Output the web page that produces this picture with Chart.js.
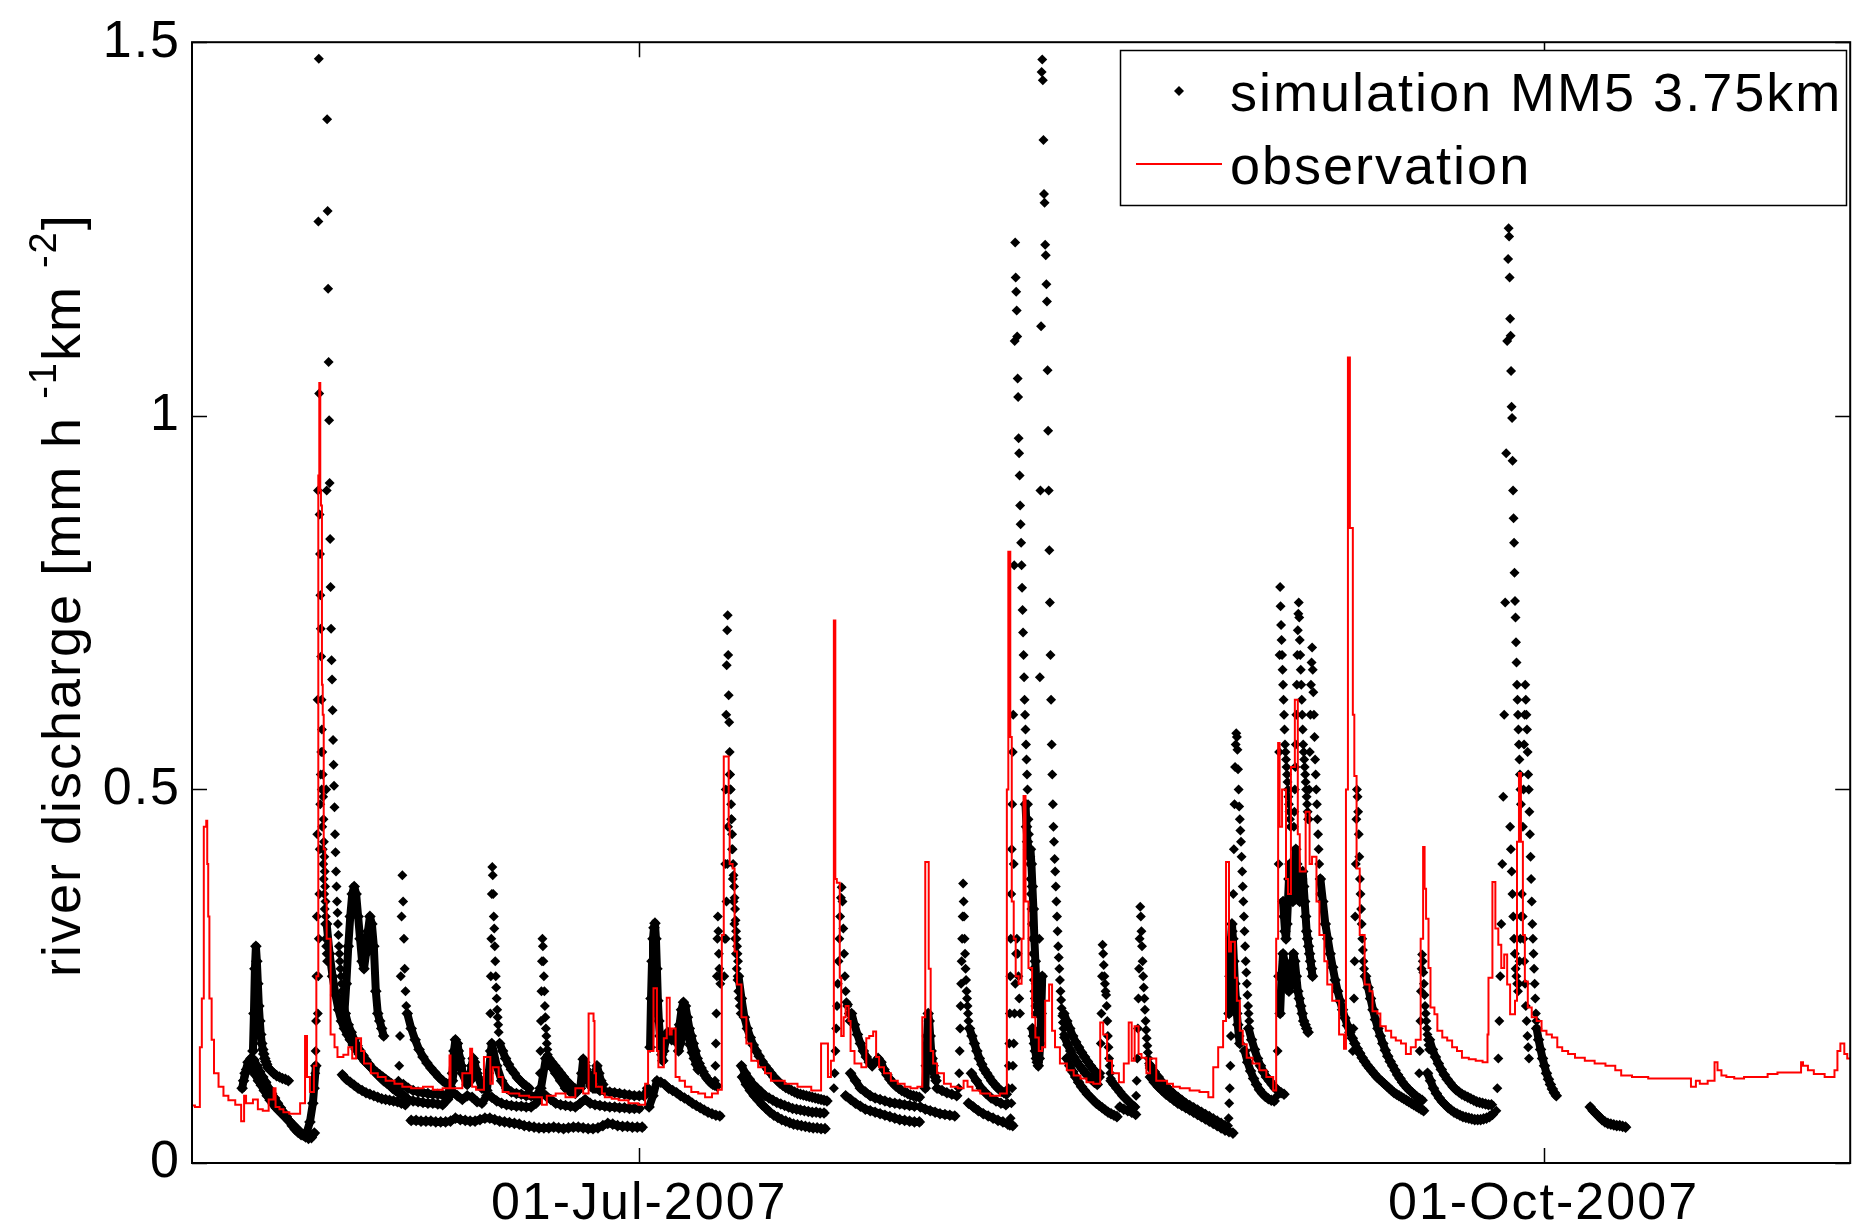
<!DOCTYPE html>
<html>
<head>
<meta charset="utf-8">
<script src="https://cdn.jsdelivr.net/npm/chart.js@4.4.1/dist/chart.umd.min.js"></script>
<style>
html, body { margin: 0; padding: 0; background: #fff; }
</style>
</head>
<body>
<canvas id="graph1" width="1856" height="1231"></canvas>
<script>
// x = day of year 2007 (1 = 01-Jan), y = river discharge [mm h-1 km-2]
var xTickDays = [182, 274];
var xTickLabels = ['01-Jul-2007', '01-Oct-2007'];
var yTicks = [0, 0.5, 1, 1.5];
var yTickLabels = ['0', '0.5', '1', '1.5'];

// observation (red line)
var obsDay = [136.5,136.8,137.3,137.5,137.7,137.95,138.05,138.15,138.27,138.5,138.74,139.2,139.7,140.2,140.9,141.5,141.8,142.0,142.7,143.2,143.7,144.3,144.8,145.0,145.4,145.8,146.4,147.5,148.0,148.2,148.5,148.9,149.15,149.35,149.45,149.55,149.62,149.72,149.8,149.9,150.05,150.2,150.6,151.0,151.3,151.9,152.4,152.8,153.2,153.7,154.0,154.7,155.4,156.2,157.1,157.9,158.8,160.0,161.0,162.0,162.7,162.8,162.95,164.0,164.8,165.0,165.4,166.2,166.85,167.1,167.7,168.1,168.7,169.8,170.8,172.1,172.6,172.7,173.5,174.5,175.5,176.3,176.85,177.35,177.45,177.6,178.2,178.5,179.2,179.9,180.9,181.9,182.6,182.9,183.45,183.8,183.95,184.5,184.8,185.1,185.3,185.7,186.1,186.65,187.3,188.0,188.7,189.4,190.0,190.4,190.6,190.8,191.1,191.2,191.5,191.7,191.95,192.4,192.9,193.4,194.1,194.8,195.4,196.8,198.1,199.5,200.5,201.2,201.5,201.8,201.95,202.1,202.4,202.55,202.8,203.0,203.3,203.5,203.9,204.6,205.1,205.4,205.8,206.1,206.4,206.9,207.6,208.3,209.0,209.6,210.3,210.8,211.1,211.35,211.45,211.65,211.9,212.3,213.0,213.7,214.4,215.0,215.4,215.9,216.7,217.7,218.7,219.4,219.55,219.75,219.9,220.1,220.3,220.6,220.9,221.1,221.3,221.6,221.97,222.3,222.65,222.99,223.3,223.7,224.0,224.3,224.8,225.5,226.2,226.9,227.5,228.2,228.9,229.2,229.6,230.1,230.8,231.3,231.8,232.1,232.4,232.8,233.1,233.6,233.97,234.6,234.98,235.7,236.3,237.0,238.0,239.0,239.9,240.4,240.9,241.4,241.7,242.0,242.2,242.6,242.8,243.1,243.4,243.8,244.4,245.1,245.8,246.5,246.8,247.0,247.15,247.4,247.8,248.0,248.3,248.7,249.0,249.2,249.5,249.8,250.2,250.45,250.9,251.2,251.7,252.0,252.5,253.2,253.7,253.9,254.1,254.3,254.6,254.75,254.98,255.3,255.8,256.3,256.6,257.1,257.4,257.95,258.5,258.97,259.5,260.0,260.5,261.0,261.5,261.75,261.9,262.05,262.3,262.5,262.9,263.2,263.7,264.2,264.7,265.2,265.7,266.4,267.1,267.8,268.3,268.4,268.8,269.1,269.4,269.7,270.0,270.3,270.6,271.1,271.3,271.5,271.7,271.9,272.1,272.4,272.8,273.3,273.8,274.3,274.85,275.4,275.9,276.5,277.2,278.2,279.2,280.3,281.3,281.9,283.0,284.65,286.0,287.7,289.0,289.5,289.9,290.7,291.4,291.7,292.1,292.6,293.4,294.4,295.5,296.8,297.8,299.2,300.2,300.4,300.9,301.5,302.6,303.6,303.9,304.2,304.6,304.9,305.3];
var obsQ = [0.055,0.077,0.075,0.155,0.22,0.45,0.458,0.4,0.33,0.22,0.165,0.12,0.102,0.09,0.084,0.078,0.056,0.09,0.08,0.085,0.072,0.07,0.085,0.1,0.075,0.072,0.068,0.066,0.08,0.17,0.115,0.095,0.13,0.25,0.92,1.044,0.9,0.88,0.64,0.6,0.42,0.35,0.3,0.172,0.155,0.142,0.145,0.155,0.14,0.167,0.15,0.133,0.12,0.115,0.11,0.106,0.102,0.1,0.102,0.098,0.1,0.144,0.1,0.1,0.12,0.153,0.102,0.098,0.142,0.106,0.128,0.115,0.095,0.093,0.09,0.088,0.078,0.09,0.09,0.093,0.088,0.1,0.093,0.2,0.19,0.12,0.102,0.093,0.088,0.086,0.084,0.08,0.078,0.106,0.15,0.234,0.15,0.128,0.167,0.221,0.172,0.18,0.115,0.11,0.102,0.095,0.093,0.088,0.093,0.098,0.305,0.544,0.544,0.45,0.4,0.394,0.283,0.239,0.195,0.16,0.137,0.128,0.12,0.11,0.106,0.102,0.097,0.16,0.115,0.137,0.726,0.38,0.375,0.248,0.17,0.195,0.21,0.19,0.15,0.133,0.128,0.167,0.17,0.176,0.142,0.128,0.12,0.11,0.106,0.102,0.1,0.102,0.195,0.403,0.403,0.26,0.15,0.133,0.12,0.106,0.102,0.1,0.11,0.102,0.097,0.093,0.09,0.093,0.5,0.818,0.57,0.35,0.3,0.25,0.24,0.3,0.491,0.35,0.261,0.195,0.168,0.15,0.155,0.217,0.239,0.177,0.155,0.133,0.124,0.117,0.113,0.108,0.106,0.188,0.172,0.137,0.12,0.108,0.133,0.188,0.137,0.183,0.146,0.141,0.12,0.14,0.11,0.11,0.106,0.102,0.1,0.097,0.095,0.088,0.128,0.155,0.19,0.403,0.283,0.296,0.248,0.217,0.177,0.159,0.141,0.133,0.124,0.115,0.097,0.3,0.562,0.45,0.5,0.38,0.36,0.53,0.62,0.44,0.39,0.39,0.47,0.4,0.41,0.35,0.305,0.27,0.239,0.217,0.172,0.153,0.5,1.078,0.85,0.6,0.518,0.394,0.305,0.239,0.23,0.203,0.2,0.183,0.177,0.168,0.164,0.16,0.146,0.155,0.165,0.3,0.423,0.367,0.327,0.261,0.208,0.199,0.177,0.168,0.164,0.155,0.15,0.141,0.139,0.137,0.135,0.172,0.248,0.376,0.314,0.292,0.261,0.279,0.239,0.199,0.217,0.43,0.522,0.43,0.305,0.243,0.208,0.195,0.19,0.177,0.172,0.168,0.155,0.15,0.146,0.141,0.137,0.133,0.13,0.124,0.117,0.115,0.113,0.113,0.113,0.102,0.11,0.106,0.11,0.135,0.124,0.117,0.115,0.113,0.115,0.115,0.119,0.121,0.121,0.135,0.13,0.124,0.119,0.115,0.124,0.15,0.16,0.146,0.14];

// simulation MM5 3.75km (black dots), runs of [start day, step in days, values]
var simMay = [
  [141.6, 0.3, [0.10,0.12,0.135,0.14,0.138,0.13,0.122,0.115,0.108,0.1,0.093,0.087,0.08,0.074,0.068,0.062,0.056,0.05,0.045,0.041,0.038,0.037,0.042,0.055,0.08,0.13]],
  [141.75, 0.3, [0.11,0.125,0.13,0.125,0.118,0.11,0.104,0.097,0.09,0.084,0.079,0.074,0.07,0.066,0.062,0.058,0.054,0.05,0.046,0.042,0.038,0.035,0.033,0.034,0.04]],
  [142.7, 0.1, [0.15,0.2,0.26,0.29,0.27,0.24,0.21,0.19,0.172,0.16,0.152,0.146,0.14,0.136,0.132]],
  [144.2, 0.3, [0.128,0.124,0.12,0.117,0.115,0.113,0.112,0.11]],
  [149.0, 0.04, [0.1,0.12,0.15,0.19,0.25,0.33,0.44,0.62,0.9,1.26,1.478,1.03,0.868,0.815,0.76,0.715,0.678,0.62,0.58,0.55,0.52,0.49,0.46,0.43,0.41,0.39,0.37,0.35,0.33]],
  [149.3, 0.05, [0.2,0.25,0.3,0.36,0.42,0.48,0.52,0.55,0.5,0.45,0.42,0.4,0.38,0.36,0.34,0.32,0.3,0.29,0.28,0.27]],
  [150.15, 0.05, [0.5,0.9,1.397,1.274,1.17,1.072,0.994,0.91,0.835,0.771,0.715,0.673,0.647,0.606,0.566,0.533,0.505,0.476,0.44,0.416,0.39,0.37,0.35,0.335,0.32,0.305,0.29,0.28,0.27,0.26,0.25,0.24,0.23]],
  [150.2, 0.3, [0.32,0.28,0.25,0.225,0.205,0.19,0.18,0.172,0.165,0.158,0.152,0.146,0.141,0.136,0.132,0.128,0.124,0.121,0.118,0.115,0.112,0.109,0.106,0.104,0.102,0.1]],
  [151.8, 0.3, [0.22,0.2,0.185,0.175,0.165,0.157,0.15,0.144,0.138,0.132,0.127,0.122,0.118,0.114,0.11,0.107,0.104,0.1,0.097,0.094,0.092,0.09]],
  [152.0, 0.2, [0.2,0.24,0.29,0.33,0.36,0.37,0.36,0.33,0.3,0.27,0.26,0.28,0.31,0.33,0.32,0.29,0.23,0.2,0.19,0.18,0.17]],
  [151.8, 0.4, [0.118,0.112,0.108,0.104,0.1,0.097,0.094,0.092,0.09,0.088,0.086,0.085,0.084,0.083,0.082,0.08,0.078]]
];
var simJun = [
  [157.5, 0.08, [0.11,0.13,0.17,0.25,0.33,0.385,0.35,0.3,0.26,0.23,0.21]],
  [158.4, 0.4, [0.2,0.18,0.165,0.152,0.142,0.134,0.127,0.121,0.115,0.11,0.106,0.102]],
  [158.0, 0.5, [0.105,0.1,0.097,0.095,0.094,0.093,0.092,0.092,0.091,0.092,0.11,0.16,0.12,0.105,0.13,0.12,0.1,0.097,0.16,0.13,0.11,0.1,0.095,0.093,0.092,0.09,0.09,0.089,0.1,0.14,0.13,0.12,0.11,0.1,0.095,0.093,0.1,0.13,0.11,0.1,0.097,0.096,0.095,0.094,0.093,0.092,0.091,0.09,0.09,0.09]],
  [158.5, 0.5, [0.085,0.083,0.082,0.081,0.08,0.08,0.079,0.078,0.085,0.095,0.09,0.085,0.09,0.088,0.082,0.08,0.09,0.088,0.083,0.08,0.078,0.077,0.076,0.076,0.075,0.075,0.08,0.095,0.09,0.085,0.08,0.078,0.077,0.076,0.075,0.08,0.085,0.08,0.078,0.077,0.076,0.075,0.075,0.074,0.074,0.073,0.073,0.073]],
  [158.8, 0.5, [0.057,0.057,0.056,0.056,0.056,0.055,0.055,0.055,0.056,0.06,0.058,0.057,0.056,0.056,0.058,0.06,0.06,0.058,0.056,0.055,0.054,0.053,0.052,0.05,0.049,0.048,0.047,0.047,0.047,0.048,0.047,0.046,0.047,0.048,0.048,0.047,0.046,0.046,0.047,0.05,0.053,0.052,0.05,0.049,0.049,0.048,0.048,0.048]],
  [163.0, 0.15, [0.12,0.15,0.165,0.16,0.15,0.14,0.13,0.12]],
  [164.8, 0.15, [0.11,0.13,0.14,0.135,0.125,0.115]],
  [166.75, 0.05, [0.12,0.15,0.2,0.25,0.3,0.36,0.396,0.385,0.36,0.33,0.314,0.29,0.27,0.25,0.235,0.22,0.205,0.195,0.185,0.175]],
  [167.8, 0.3, [0.16,0.15,0.14,0.132,0.125,0.12,0.114,0.11,0.106,0.103,0.1]],
  [171.85, 0.05, [0.1,0.12,0.15,0.19,0.23,0.27,0.3,0.29,0.27,0.25,0.23,0.21,0.195,0.18,0.17,0.16,0.152,0.145]],
  [172.8, 0.3, [0.14,0.135,0.13,0.125,0.12,0.115,0.11,0.106,0.102,0.099]],
  [176.0, 0.15, [0.1,0.12,0.139,0.135,0.125,0.115,0.108,0.103]],
  [177.3, 0.2, [0.1,0.12,0.13,0.12,0.11,0.105]]
];
var simJul = [
  [182.6, 0.25, [0.092,0.1]],
  [183.1, 0.1, [0.155,0.22,0.27,0.3,0.315,0.321,0.3,0.26,0.217,0.19,0.17,0.155,0.145,0.137]],
  [184.5, 0.2, [0.15,0.165,0.175,0.17,0.165,0.17,0.175,0.165]],
  [185.9, 0.2, [0.16,0.185,0.205,0.215,0.21,0.195,0.18,0.17,0.16,0.15,0.14,0.133,0.127,0.122,0.117,0.113,0.11,0.107,0.105,0.104,0.103]],
  [186.0, 0.2, [0.15,0.16,0.175,0.185,0.18,0.17,0.158,0.148,0.14,0.132,0.125]],
  [183.0, 0.4, [0.075,0.09,0.11,0.108,0.105,0.1,0.097,0.094,0.09,0.087,0.084,0.08,0.077,0.074,0.071,0.068,0.066,0.064,0.063]],
  [189.7, 0.05, [0.11,0.13,0.16,0.2,0.25,0.3,0.33,0.31,0.28,0.26,0.25,0.24]],
  [190.65, 0.05, [0.25,0.3,0.4,0.5,0.6,0.666,0.713,0.733,0.68,0.626,0.59,0.55,0.52,0.5,0.48,0.46,0.44,0.42,0.4,0.385,0.37,0.355,0.34,0.325,0.31,0.3,0.29,0.28,0.27]],
  [190.8, 0.08, [0.3,0.35,0.4,0.45,0.5,0.52,0.5,0.46,0.42,0.38,0.35,0.32,0.3,0.28,0.26,0.245,0.23,0.22,0.21,0.2]],
  [192.1, 0.3, [0.25,0.22,0.195,0.18,0.168,0.158,0.15,0.143,0.136,0.13,0.125,0.12,0.115,0.111,0.107,0.104,0.101,0.099,0.097,0.095,0.093,0.092,0.091,0.09,0.089,0.088,0.087,0.086,0.085,0.084,0.083]],
  [192.4, 0.4, [0.13,0.12,0.112,0.105,0.1,0.095,0.09,0.087,0.084,0.081,0.079,0.077,0.075,0.073,0.072,0.071,0.07,0.069,0.068,0.068,0.067,0.067]],
  [192.5, 0.4, [0.115,0.105,0.097,0.09,0.084,0.078,0.073,0.068,0.064,0.061,0.058,0.056,0.054,0.052,0.051,0.05,0.049,0.048,0.047,0.047,0.046,0.046]],
  [201.8, 0.08, [0.1,0.12,0.15,0.18,0.21,0.24,0.27,0.3,0.33,0.355,0.369,0.35,0.314,0.28,0.25,0.23,0.215,0.21,0.212,0.2,0.19]],
  [203.6, 0.3, [0.2,0.185,0.172,0.16,0.15,0.142,0.135,0.13,0.135,0.14,0.135,0.125,0.118,0.112,0.107,0.103,0.1,0.097,0.095,0.093,0.091,0.09,0.089,0.088]],
  [203.5, 0.5, [0.12,0.11,0.1,0.095,0.09,0.087,0.085,0.083,0.081,0.08,0.079,0.078,0.077,0.076]],
  [203.0, 0.5, [0.09,0.085,0.08,0.076,0.072,0.07,0.068,0.066,0.064,0.062,0.06,0.058,0.057,0.056,0.055,0.055]],
  [211.1, 0.1, [0.1,0.13,0.17,0.2,0.19,0.17,0.15,0.14,0.13,0.12,0.115,0.11]],
  [212.3, 0.5, [0.1,0.097,0.094,0.092,0.09]],
  [210.6, 0.5, [0.075,0.072,0.07,0.068,0.066,0.065,0.064,0.063]]
];
var simAug = [
  [214.5, 0.05, [0.1,0.12,0.15,0.18,0.21,0.24,0.27,0.3,0.33,0.374,0.35,0.33,0.3,0.28,0.26,0.245,0.23,0.22,0.21,0.2,0.19]],
  [215.6, 0.25, [0.18,0.17,0.16,0.15,0.14,0.132,0.125,0.12,0.115,0.11,0.106,0.102,0.099,0.096,0.094,0.092]],
  [215.5, 0.5, [0.08,0.075,0.07,0.066,0.063,0.06,0.057,0.055,0.052,0.05]],
  [215.8, 0.5, [0.12,0.11,0.1,0.093,0.087,0.083,0.08,0.078]],
  [219.5, 0.05, [0.08,0.1,0.13,0.16,0.2,0.25,0.3,0.36,0.42,0.48,0.55,0.6]],
  [219.7, 0.08, [0.05,0.06,0.08,0.1,0.13,0.16,0.2,0.24,0.28,0.3,0.28,0.25,0.22,0.2]],
  [220.1, 0.05, [0.4,0.8,1.1,1.232,1.185,1.166,1.141,1.106,1.05,1.025,0.97,0.95,0.92,0.88,0.855,0.83,0.8,0.77,0.74,0.71,0.68,0.65,0.62,0.6,0.58,0.56,0.54,0.52,0.5,0.48,0.46,0.44,0.42,0.4,0.38,0.36,0.34,0.32,0.3,0.28,0.26,0.245,0.23,0.22,0.21,0.2]],
  [221.3, 0.1, [0.48,0.45,0.43,0.42,0.41,0.42,0.4,0.37,0.34,0.3,0.27,0.24,0.22,0.2]],
  [222.0, 0.1, [0.18,0.17,0.16,0.15,0.14,0.135,0.13,0.14,0.16,0.2,0.25]],
  [222.7, 0.06, [0.3,0.65,0.9,1.12,1.46,1.477,1.449,1.369,1.297,1.285,1.229,1.215,1.176,1.153,1.061,0.98,0.9,0.82,0.75,0.68,0.62,0.56,0.52,0.48,0.45,0.43,0.407,0.39,0.37,0.35,0.33,0.31,0.29,0.275,0.26,0.245,0.23,0.218,0.207,0.197,0.188,0.18,0.172]],
  [225.2, 0.3, [0.2,0.19,0.18,0.17,0.162,0.155,0.148,0.142,0.136,0.13,0.125,0.12,0.115]],
  [225.3, 0.3, [0.168,0.158,0.15,0.142,0.136,0.13,0.125,0.12,0.116,0.112,0.108,0.105]],
  [225.5, 0.3, [0.14,0.13,0.122,0.115,0.108,0.102,0.097,0.092,0.088,0.084,0.08,0.077,0.074,0.071,0.068,0.066,0.064,0.062]],
  [228.9, 0.06, [0.12,0.16,0.2,0.25,0.292,0.28,0.265,0.25,0.24,0.23,0.225,0.21,0.19,0.17,0.155,0.14,0.13,0.12,0.113]],
  [230.0, 0.3, [0.11,0.105,0.1,0.095,0.09,0.086,0.082,0.078,0.075]],
  [230.9, 0.4, [0.075,0.072,0.07,0.068,0.065]],
  [232.55, 0.06, [0.09,0.11,0.14,0.18,0.22,0.26,0.3,0.343,0.33,0.31,0.29,0.27,0.25,0.235,0.22,0.205,0.19,0.178,0.167,0.157,0.148,0.14,0.133,0.127]],
  [234.0, 0.4, [0.115,0.108,0.102,0.097,0.092,0.088,0.084,0.08,0.077,0.074,0.071,0.068,0.065,0.062,0.059,0.056,0.053,0.05,0.047,0.044,0.042,0.04]],
  [234.0, 0.4, [0.13,0.122,0.115,0.108,0.102,0.097,0.092,0.088,0.084,0.08,0.077,0.074,0.071,0.068,0.065,0.062,0.059,0.056,0.053,0.05]]
];
var simSep = [
  [241.9, 0.06, [0.05,0.06,0.08,0.1,0.13,0.17,0.21,0.26,0.31,0.36,0.42,0.48,0.53,0.56,0.575,0.57,0.553,0.527,0.5,0.477,0.46,0.445,0.43,0.41,0.39,0.37,0.35,0.33,0.31,0.29,0.27,0.255,0.24,0.225,0.21,0.2,0.19]],
  [242.0, 0.1, [0.2,0.25,0.3,0.32,0.3,0.27,0.24,0.22,0.2,0.185,0.17,0.16]],
  [244.0, 0.3, [0.18,0.165,0.152,0.14,0.13,0.122,0.115,0.11,0.105,0.1,0.097,0.094,0.092]],
  [243.6, 0.3, [0.15,0.135,0.123,0.113,0.105,0.098,0.093,0.089,0.086,0.084,0.083]],
  [246.9, 0.05, [0.09,0.15,0.25,0.4,0.55,0.68,0.771,0.745,0.72,0.7,0.68,0.66,0.64,0.62,0.6,0.58,0.56,0.55,0.54,0.53,0.52,0.51,0.5,0.49,0.48,0.47,0.46,0.45]],
  [248.6, 0.05, [0.45,0.47,0.5,0.53,0.56,0.6,0.64,0.68,0.713,0.735,0.75,0.73,0.7,0.68,0.66,0.64,0.62,0.6,0.58,0.56,0.55,0.54,0.53,0.52,0.51,0.5,0.49,0.48,0.47,0.46]],
  [250.1, 0.06, [0.46,0.5,0.55,0.6,0.64,0.67,0.69,0.66,0.63,0.6,0.57,0.54,0.52,0.5,0.48,0.46,0.44,0.42,0.4,0.38,0.36]],
  [247.5, 0.1, [0.35,0.33,0.31,0.3,0.32,0.35,0.38,0.4,0.38,0.36,0.35,0.37,0.4,0.42,0.4,0.38,0.36,0.35,0.36,0.38,0.39,0.37,0.35,0.33,0.31,0.3,0.29,0.28,0.27,0.26,0.25]],
  [247.2, 0.15, [0.2,0.25,0.28,0.27,0.25,0.24,0.23,0.24,0.26,0.28,0.27,0.25,0.23,0.22,0.21,0.2,0.19,0.185,0.18,0.175]],
  [251.3, 0.25, [0.38,0.35,0.32,0.3,0.28,0.262,0.245,0.23,0.217,0.205,0.194,0.184,0.175,0.167,0.16,0.153,0.147,0.141,0.136,0.131,0.127,0.123,0.119,0.115,0.112,0.109,0.106,0.103,0.1,0.097,0.094,0.092,0.09,0.088,0.086,0.084,0.082,0.08,0.078,0.076,0.074,0.072,0.07]],
  [254.6, 0.06, [0.15,0.18,0.22,0.27,0.33,0.4,0.46,0.5,0.49,0.47,0.44,0.41,0.38,0.36,0.34,0.32,0.3,0.285,0.27,0.26,0.25]],
  [255.9, 0.25, [0.25,0.235,0.22,0.205,0.192,0.18,0.17,0.16,0.151,0.143,0.136,0.13,0.124,0.118,0.113,0.108,0.104,0.1,0.097,0.094,0.091,0.088,0.086,0.084]],
  [261.35, 0.06, [0.12,0.15,0.19,0.23,0.26,0.279,0.27,0.255,0.24,0.225,0.21,0.2,0.19,0.18,0.172,0.165,0.158,0.152]],
  [262.4, 0.3, [0.165,0.152,0.142,0.133,0.125,0.118,0.112,0.107,0.102,0.098,0.095,0.092,0.09,0.088,0.086,0.084,0.082,0.081,0.08,0.079,0.078,0.078]],
  [262.2, 0.3, [0.12,0.11,0.1,0.093,0.087,0.082,0.078,0.074,0.071,0.068,0.066,0.064,0.062,0.061,0.06,0.059,0.058,0.058,0.058,0.059,0.06,0.062,0.065]],
  [269.2, 0.1, [0.07,0.1,0.14,0.19,0.25,0.32,0.4,0.49,0.6,0.75,0.95,1.1]],
  [270.4, 0.05, [1.21,1.251,1.24,1.185,1.13,1.107,1.06,1.012,0.997,0.94,0.9,0.863,0.83,0.79,0.752,0.73,0.697,0.67,0.64,0.62,0.6,0.58,0.56,0.54,0.52,0.5,0.48]],
  [270.6, 0.08, [0.45,0.42,0.39,0.36,0.33,0.3,0.28,0.26,0.25,0.24,0.23,0.24,0.27,0.3,0.33,0.36,0.33,0.3,0.27,0.24,0.21,0.19,0.17,0.155,0.14]],
  [271.9, 0.06, [0.45,0.5,0.56,0.6,0.64,0.62,0.6,0.58,0.55,0.52,0.5,0.47,0.44,0.41,0.38,0.35,0.32,0.3,0.28,0.26,0.24,0.22,0.2,0.19]],
  [273.3, 0.2, [0.18,0.165,0.152,0.14,0.13,0.12,0.112,0.105,0.099,0.094,0.09]],
  [278.75, 0.3, [0.075,0.07,0.066,0.062,0.058,0.055,0.053,0.052,0.051,0.05,0.05,0.049,0.048]]
];

var fontFam = '"Liberation Sans", Arial, Helvetica, sans-serif';

var obsPoints = obsDay.map(function (d, i) { return { x: d, y: obsQ[i] }; });

var datasets = [{
  type: 'line',
  label: 'observation',
  data: obsPoints,
  borderColor: '#ff0000',
  borderWidth: 2,
  pointRadius: 0,
  stepped: 'after',
  fill: false,
  order: 0
}];

// one dataset per run. slow, low runs are joined with a thick stroke so the
// hourly dots read as a solid band; the tall peaks stay as separate dots
[simMay, simJun, simJul, simAug, simSep].forEach(function (month) {
  month.forEach(function (run) {
    var pts = run[2].map(function (q, i) { return { x: run[0] + i * run[1], y: q }; });
    var joined = run[1] >= 0.1 && Math.max.apply(null, run[2]) < 0.8;
    datasets.push({
      label: 'simulation MM5 3.75km',
      data: pts,
      showLine: joined,
      borderColor: '#000',
      borderWidth: 8,
      borderJoinStyle: 'round',
      borderCapStyle: 'round',
      pointStyle: 'rectRot',
      pointRadius: joined ? 5.8 : 5,
      pointBackgroundColor: '#000',
      pointBorderWidth: 0,
      order: 1
    });
  });
});

// axes box, inward ticks, legend and y label (matlab look)
var matlabFrame = {
  id: 'matlabFrame',
  beforeDraw: function (chart) {
    chart.ctx.letterSpacing = '2px';
  },
  afterDraw: function (chart) {
    var c = chart.ctx, a = chart.chartArea;
    var sx = chart.scales.x, sy = chart.scales.y;
    c.save();
    c.strokeStyle = '#000';
    c.lineWidth = 2;
    c.strokeRect(a.left, a.top, a.right - a.left, a.bottom - a.top);
    c.lineWidth = 1.5;
    c.beginPath();
    xTickDays.forEach(function (d) {
      var px = Math.round(sx.getPixelForValue(d)) + 0.5;
      c.moveTo(px, a.bottom); c.lineTo(px, a.bottom - 15);
      c.moveTo(px, a.top); c.lineTo(px, a.top + 15);
    });
    yTicks.forEach(function (v) {
      var py = Math.round(sy.getPixelForValue(v)) + 0.5;
      c.moveTo(a.left, py); c.lineTo(a.left + 15, py);
      c.moveTo(a.right, py); c.lineTo(a.right - 15, py);
    });
    c.stroke();

    // legend
    c.fillStyle = '#fff';
    c.fillRect(1120, 50, 726, 155);
    c.lineWidth = 1.5;
    c.strokeRect(1120.5, 50.5, 726, 155);
    c.fillStyle = '#000';
    Chart.helpers.drawPoint(c, { pointStyle: 'rectRot', radius: 5, rotation: 0, borderWidth: 0 }, 1179, 91);
    c.strokeStyle = '#ff0000';
    c.lineWidth = 2;
    c.beginPath(); c.moveTo(1136, 164); c.lineTo(1222, 164); c.stroke();
    c.fillStyle = '#000';
    c.font = '54px ' + fontFam;
    c.textBaseline = 'alphabetic';
    c.textAlign = 'left';
    c.fillText('simulation MM5 3.75km', 1230, 111);
    c.fillText('observation', 1230, 184);

    // y axis title with superscripts
    c.translate(80, 977);
    c.rotate(-Math.PI / 2);
    var parts = [['river discharge [mm h ', 0], ['-1', 1], ['km ', 0], ['-2', 1], [']', 0]];
    var x = 0;
    parts.forEach(function (p) {
      c.font = (p[1] ? '38px ' : '54px ') + fontFam;
      c.fillText(p[0], x, p[1] ? -24 : 0);
      x += c.measureText(p[0]).width;
    });
    c.restore();
  }
};

var ctx = document.getElementById('graph1').getContext('2d');
var config = {
  type: 'scatter',
  data: { datasets: datasets },
  options: {
    responsive: false,
    animation: false,
    devicePixelRatio: 1,
    layout: { padding: { top: 34, right: 0, left: 0, bottom: 0 } },
    plugins: {
      legend: { display: false },
      tooltip: { enabled: false }
    },
    scales: {
      x: {
        type: 'linear',
        min: 136.5,
        max: 305.2,
        grid: { display: false, drawTicks: false },
        border: { display: false },
        afterBuildTicks: function (s) { s.ticks = xTickDays.map(function (v) { return { value: v }; }); },
        afterFit: function (s) { s.height = 68; },
        ticks: {
          autoSkip: false, maxRotation: 0, padding: 10, color: '#000',
          font: { family: fontFam, size: 52 },
          callback: function (v, i) { return xTickLabels[i]; }
        }
      },
      y: {
        min: 0,
        max: 1.5,
        grid: { display: false, drawTicks: false },
        border: { display: false },
        afterBuildTicks: function (s) { s.ticks = yTicks.map(function (v) { return { value: v }; }); },
        afterFit: function (s) { s.width = 192; },
        ticks: {
          padding: 11, color: '#000',
          font: { family: fontFam, size: 52 },
          callback: function (v, i) { return yTickLabels[i]; }
        }
      }
    }
  },
  plugins: [matlabFrame]
};

var graph1 = new Chart(ctx, config);
</script>
</body>
</html>
